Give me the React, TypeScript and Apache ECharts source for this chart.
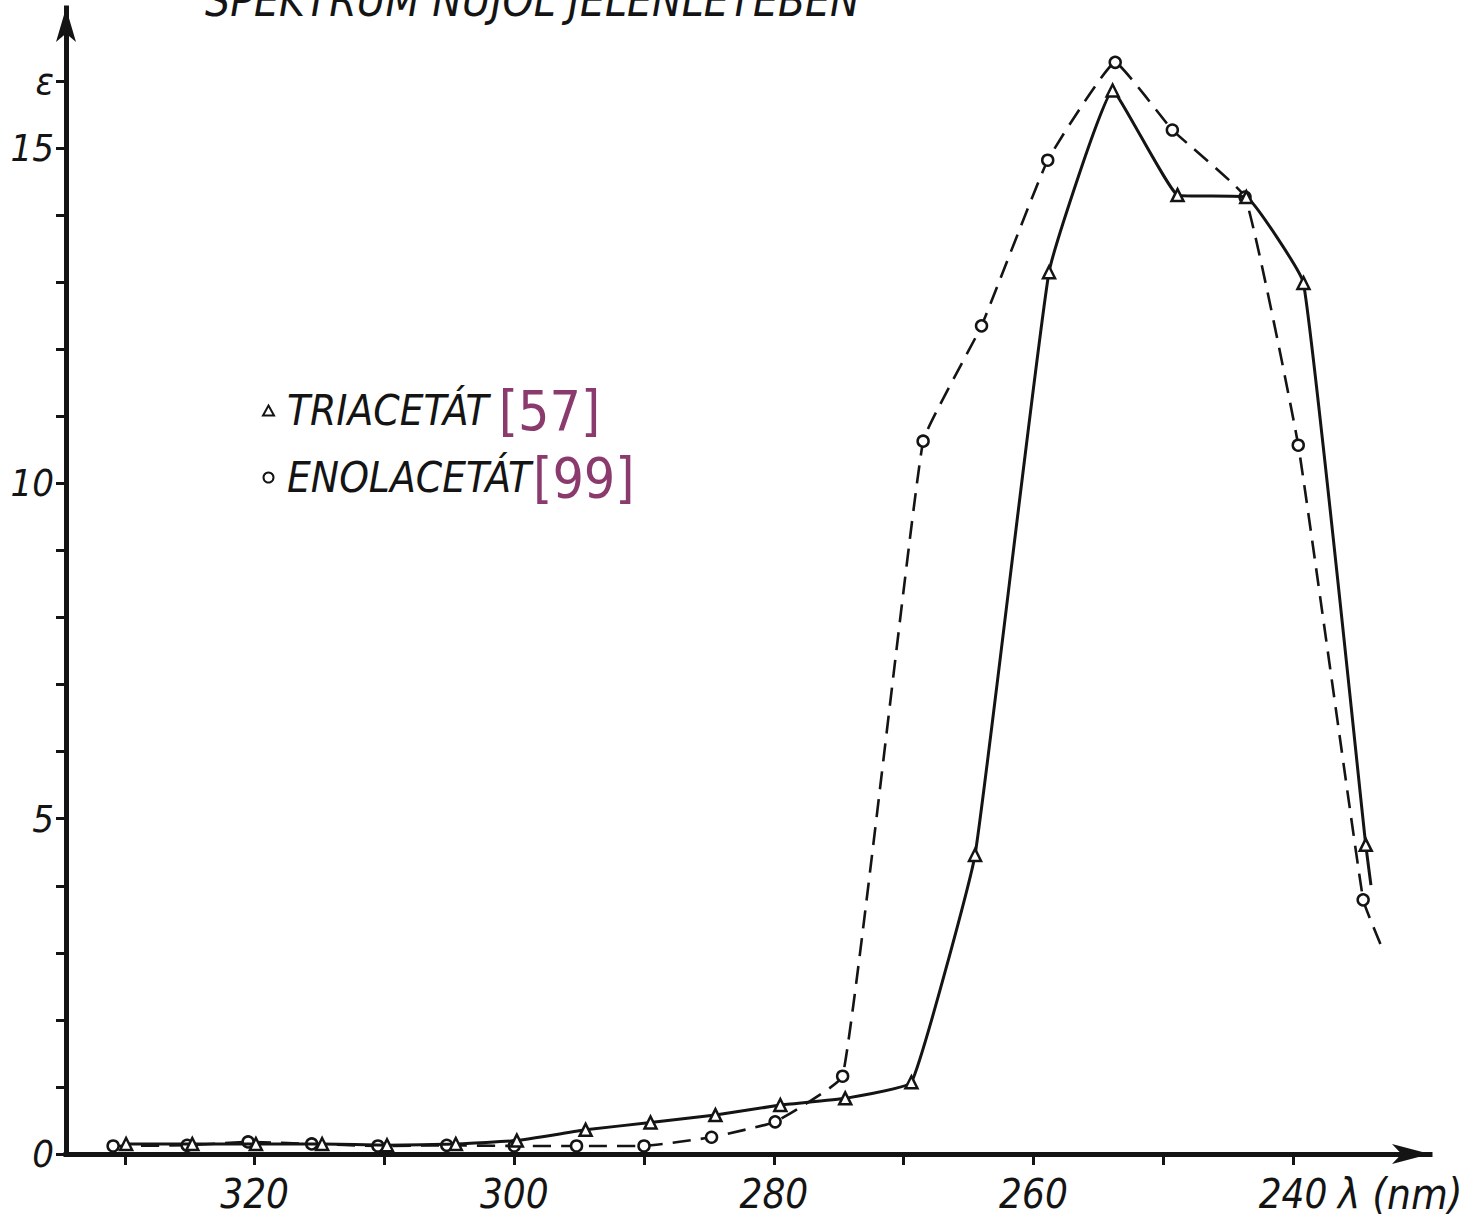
import React, { useEffect, useRef } from "react";
import * as echarts from "echarts";

// ---- data ----
const triWavelength = [329.9, 324.8, 319.9, 314.8, 309.8, 304.5, 299.8, 294.5, 289.5, 284.5, 279.5, 274.5, 269.4, 264.5, 258.8, 253.9, 248.9, 243.6, 239.2, 234.4, 234.0];
const triEpsilon = [0.15, 0.15, 0.15, 0.15, 0.13, 0.15, 0.2, 0.36, 0.47, 0.58, 0.73, 0.83, 1.07, 4.46, 13.15, 15.86, 14.3, 14.27, 12.99, 4.61, 4.01];
const triMarked = [1, 1, 1, 1, 1, 1, 1, 1, 1, 1, 1, 1, 1, 1, 1, 1, 1, 1, 1, 1, 0];

const enolWavelength = [330.9, 325.2, 320.5, 315.6, 310.5, 305.2, 300.0, 295.2, 290.0, 284.8, 279.9, 274.7, 268.5, 264.0, 258.9, 253.7, 249.3, 243.7, 239.6, 234.6, 233.2];
const enolEpsilon = [0.12, 0.13, 0.18, 0.15, 0.12, 0.13, 0.12, 0.12, 0.12, 0.25, 0.48, 1.16, 10.63, 12.35, 14.82, 16.28, 15.27, 14.27, 10.57, 3.79, 3.1];
const enolMarked = [1, 1, 1, 1, 1, 1, 1, 1, 1, 1, 1, 1, 1, 1, 1, 1, 1, 1, 1, 1, 0];

const seriesNames = ["TRIACETÁT", "ENOLACETÁT"];
const seriesRefs = ["[57]", "[99]"];

const xTickValues = [240, 250, 260, 270, 280, 290, 300, 310, 320, 330];
const xLabelValues = [240, 260, 280, 300, 320];
const yTickValues = [0, 1, 2, 3, 4, 5, 6, 7, 8, 9, 10, 11, 12, 13, 14, 15, 16];
const yLabelValues = [0, 5, 10, 15, 16];
const yTopSymbol = "ε";
const xAxisTitle = "λ (nm)";
const chartTitle = "SPEKTRUM NUJOL JELENLÉTÉBEN";

const FONT = "'Liberation Sans Narrow', 'DejaVu Sans Condensed', 'Liberation Sans', sans-serif";
const INK = "#141414";
const REF_COLOR = "#8b3a6e";

function buildData(xs: number[], ys: number[], marked: number[]) {
  return xs.map((x, i) =>
    marked[i] ? { value: [x, ys[i]] } : { value: [x, ys[i]], symbol: "none" }
  );
}

export default function App() {
  const ref = useRef<HTMLDivElement>(null);

  useEffect(() => {
    if (!ref.current) return;
    const chart = echarts.init(ref.current, undefined, { renderer: "svg" });

    const option: any = {
      animation: false,
      backgroundColor: "#ffffff",
      grid: { left: 66, right: 45, top: 8, bottom: 69, containLabel: false, outerBoundsMode: "none" },
      xAxis: {
        type: "value",
        inverse: true,
        min: 229.45,
        max: 334.53,
        axisLine: {
          show: true,
          onZero: false,
          symbol: ["none", "arrow"],
          symbolSize: [15, 38],
          lineStyle: { color: INK, width: 5, cap: "square" },
        },
        axisTick: {
          show: true,
          customValues: xTickValues,
          length: 11,
          lineStyle: { color: INK, width: 3 },
        },
        axisLabel: {
          show: true,
          customValues: xLabelValues,
          margin: 20,
          fontFamily: FONT,
          fontStyle: "italic",
          fontSize: 40,
          color: INK,
        },
        splitLine: { show: false },
      },
      yAxis: {
        type: "value",
        min: 0,
        max: 17.09,
        axisLine: {
          show: true,
          onZero: false,
          symbol: ["none", "arrow"],
          symbolSize: [15, 34],
          lineStyle: { color: INK, width: 5, cap: "square" },
        },
        axisTick: {
          show: true,
          customValues: yTickValues,
          length: 10,
          lineStyle: { color: INK, width: 3 },
        },
        axisLabel: {
          show: true,
          customValues: yLabelValues,
          formatter: (v: number) => (v === 16 ? yTopSymbol : String(v)),
          margin: 12,
          verticalAlign: "middle",
          padding: [0, 0, 24, 0],
          fontFamily: FONT,
          fontStyle: "italic",
          fontSize: 38,
          color: INK,
        },
        splitLine: { show: false },
      },
      legend: {
        show: true,
        orient: "vertical",
        left: 257,
        top: 378,
        itemGap: 12,
        itemWidth: 11,
        itemHeight: 10,
        selectedMode: false,
        data: [
          { name: seriesNames[0], icon: "triangle" },
          { name: seriesNames[1], icon: "circle" },
        ],
        formatter: (name: string) => {
          const i = seriesNames.indexOf(name);
          return `{t|${name}}{${i === 0 ? "r0" : "r1"}|${seriesRefs[i]}}`;
        },
        textStyle: {
          rich: {
            t: { fontFamily: FONT, fontStyle: "italic", fontSize: 42, color: INK, padding: [0, 0, 0, 8] },
            r0: { fontFamily: FONT, fontSize: 55, color: REF_COLOR, padding: [0, 0, 0, 10] },
            r1: { fontFamily: FONT, fontSize: 55, color: REF_COLOR, padding: [0, 0, 0, 2] },
          },
        },
      },
      graphic: [
        {
          type: "text",
          x: 205,
          y: 0,
          style: {
            text: chartTitle,
            fontFamily: FONT,
            fontStyle: "italic",
            fontSize: 44,
            fill: INK,
            verticalAlign: "middle",
          },
        },
        {
          type: "text",
          x: 1338,
          y: 1194,
          style: {
            text: xAxisTitle,
            fontFamily: FONT,
            fontStyle: "italic",
            fontSize: 42,
            fill: INK,
            verticalAlign: "middle",
          },
        },
      ],
      series: [
        {
          name: seriesNames[0],
          type: "line",
          data: buildData(triWavelength, triEpsilon, triMarked),
          smooth: 0.1,
          symbol: "triangle",
          symbolSize: 12,
          showAllSymbol: true,
          lineStyle: { color: INK, width: 3, type: "solid" },
          itemStyle: { color: "#ffffff", borderColor: INK, borderWidth: 2.5 },
          z: 3,
        },
        {
          name: seriesNames[1],
          type: "line",
          data: buildData(enolWavelength, enolEpsilon, enolMarked),
          smooth: 0.1,
          symbol: "circle",
          symbolSize: 11,
          showAllSymbol: true,
          lineStyle: { color: INK, width: 2.6, type: [18, 10] },
          itemStyle: { color: "#ffffff", borderColor: INK, borderWidth: 2.5 },
          z: 2,
        },
      ],
    };

    chart.setOption(option);
    return () => chart.dispose();
  }, []);

  return (
    <div
      ref={ref}
      style={{ position: "fixed", left: 0, top: 0, width: 1475, height: 1223, background: "#fff" }}
    />
  );
}
